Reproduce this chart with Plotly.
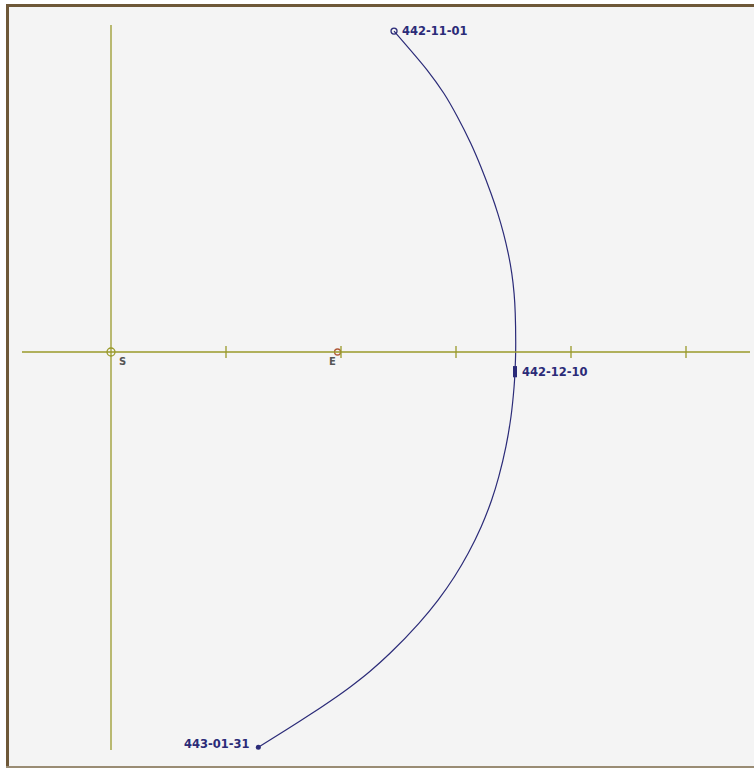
import plotly.graph_objects as go

# Path of the body (units: ticks along the S axis)
path_x = [2.461, 2.749, 2.894, 3.012, 3.128, 3.216, 3.304, 3.363, 3.413, 3.454,
          3.485, 3.505, 3.515, 3.519, 3.513, 3.505, 3.478, 3.434, 3.372, 3.310,
          3.219, 3.106, 2.986, 2.844, 2.677, 2.426, 2.248, 2.083, 1.921, 1.748,
          1.521, 1.281]
path_y = [2.791, 2.452, 2.250, 2.046, 1.815, 1.611, 1.380, 1.206, 1.032, 0.858,
          0.684, 0.510, 0.337, 0.017, -0.171, -0.302, -0.563, -0.823, -1.084, -1.287,
          -1.519, -1.750, -1.954, -2.157, -2.359, -2.620, -2.780, -2.910, -3.026, -3.142,
          -3.287, -3.437]

date_labels = ["442-11-01", "442-12-10", "443-01-31"]
date_x = [2.461, 3.513, 1.281]
date_y = [2.791, -0.171, -3.437]

tick_positions = [1, 2, 3, 4, 5]
sun_x, sun_y = 0.0, 0.0
earth_x, earth_y = 1.97, 0.0

W, H = 754, 770
PX = 115.0          # pixels per unit
OX, OY = 111, 352   # pixel position of S

xr = [-OX / PX, (W - OX) / PX]
yr = [(OY - H) / PX, OY / PX]

def px2x(p):
    return (p - OX) / PX

def py2y(p):
    return (OY - p) / PX

axis_col = "#9a9a2a"
navy = "#2b2b78"

fig = go.Figure()

shapes = []
# frame background and borders (paper coords in pixels)
shapes.append(dict(type="rect", xref="paper", yref="paper",
                   x0=6 / W, x1=1, y0=1 - 768 / H, y1=1 - 4 / H,
                   fillcolor="#f4f4f4", line=dict(width=0), layer="below"))
shapes.append(dict(type="line", xref="paper", yref="paper",
                   x0=7.5 / W, x1=7.5 / W, y0=1 - 768 / H, y1=1 - 4 / H,
                   line=dict(color="#6e5838", width=3)))
shapes.append(dict(type="line", xref="paper", yref="paper",
                   x0=6 / W, x1=1, y0=1 - 5.5 / H, y1=1 - 5.5 / H,
                   line=dict(color="#6e5838", width=3)))
shapes.append(dict(type="line", xref="paper", yref="paper",
                   x0=6 / W, x1=1, y0=1 - 767 / H, y1=1 - 767 / H,
                   line=dict(color="#9a8c74", width=2)))

# axes
shapes.append(dict(type="line", x0=px2x(22), x1=px2x(750), y0=0, y1=0,
                   line=dict(color=axis_col, width=1.3)))
shapes.append(dict(type="line", x0=0, x1=0, y0=py2y(25), y1=py2y(750),
                   line=dict(color=axis_col, width=1.3)))
for t in tick_positions:
    shapes.append(dict(type="line", x0=t, x1=t, y0=6 / PX, y1=-6 / PX,
                       line=dict(color=axis_col, width=1.3)))

fig.add_trace(go.Scatter(x=path_x, y=path_y, mode="lines",
                         line=dict(color=navy, width=1.2, shape="spline", smoothing=0.8),
                         hoverinfo="skip"))

fig.add_trace(go.Scatter(x=[sun_x], y=[sun_y], mode="markers",
                         marker=dict(symbol="circle-open", size=8,
                                     color=axis_col, line=dict(width=1.3))))
fig.add_trace(go.Scatter(x=[earth_x], y=[earth_y], mode="markers",
                         marker=dict(symbol="circle-open", size=6,
                                     color="#b05a3a", line=dict(width=1.3))))

fig.add_trace(go.Scatter(x=[date_x[0]], y=[date_y[0]], mode="markers",
                         marker=dict(symbol="circle-open", size=6, color=navy,
                                     line=dict(width=1.3))))
fig.add_trace(go.Scatter(x=[date_x[1]], y=[date_y[1]], mode="markers",
                         marker=dict(symbol="line-ns", size=8, color=navy,
                                     line=dict(width=4, color=navy))))
fig.add_trace(go.Scatter(x=[date_x[2]], y=[date_y[2]], mode="markers",
                         marker=dict(symbol="circle", size=5, color=navy)))

font_lbl = dict(family="DejaVu Sans", size=11.5, color=navy)
annotations = [
    dict(x=date_x[0], y=date_y[0], text="<b>" + date_labels[0] + "</b>",
         xanchor="left", yanchor="middle", xshift=6, showarrow=False, font=font_lbl),
    dict(x=date_x[1], y=date_y[1], text="<b>" + date_labels[1] + "</b>",
         xanchor="left", yanchor="middle", xshift=5, showarrow=False, font=font_lbl),
    dict(x=date_x[2], y=date_y[2], text="<b>" + date_labels[2] + "</b>",
         xanchor="right", yanchor="middle", xshift=-6, yshift=3, showarrow=False, font=font_lbl),
    dict(x=sun_x, y=sun_y, text="<b>S</b>", xanchor="left", yanchor="top",
         xshift=6, yshift=-2, showarrow=False,
         font=dict(family="DejaVu Sans", size=10, color="#555555")),
    dict(x=earth_x, y=earth_y, text="<b>E</b>", xanchor="right", yanchor="top",
         xshift=0, yshift=-2, showarrow=False,
         font=dict(family="DejaVu Sans", size=10, color="#555555")),
]

fig.update_layout(
    width=W, height=H,
    margin=dict(l=0, r=0, t=0, b=0),
    paper_bgcolor="white", plot_bgcolor="rgba(0,0,0,0)",
    showlegend=False,
    shapes=shapes, annotations=annotations,
    xaxis=dict(range=xr, visible=False, fixedrange=True),
    yaxis=dict(range=yr, visible=False, fixedrange=True),
)

fig.write_html("out.html", config={"displayModeBar": False},
               post_script="document.body.style.margin='0';document.body.style.overflow='hidden';")
